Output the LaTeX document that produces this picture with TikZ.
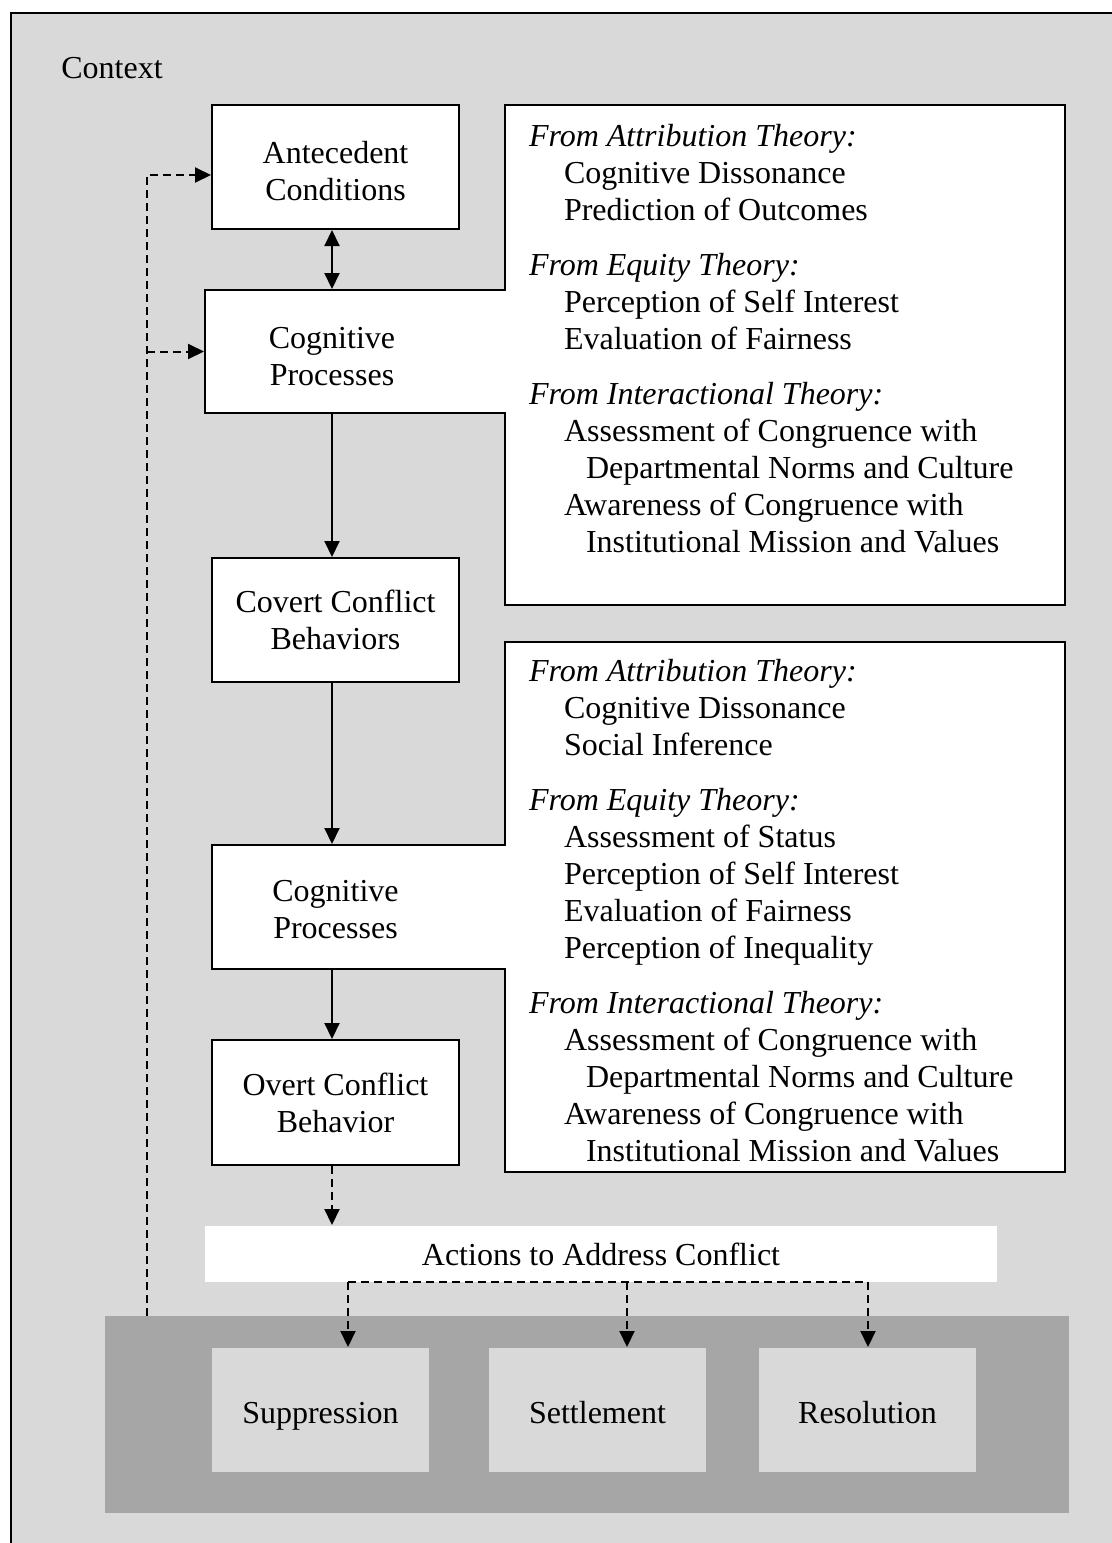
\documentclass[tikz,border=0pt]{standalone}
\usepackage{fontspec}
\setmainfont{Liberation Serif}
\usetikzlibrary{arrows.meta}
\definecolor{ltgrey}{HTML}{D9D9D9}
\definecolor{dkgrey}{HTML}{A6A6A6}
\begin{document}
\begin{tikzpicture}[x=0.5pt,y=-0.5pt,
  font=\fontsize{16}{18.5}\selectfont,
  line width=1pt,
  box/.style={draw=black, fill=white, line width=1pt, align=center, inner sep=0pt},
  ghost/.style={align=center, inner sep=0pt},
  outcome/.style={fill=ltgrey, inner sep=0pt, minimum width=108.5pt, minimum height=62pt, text height=16.5pt, text depth=3pt},
  theory/.style={anchor=north west, align=left, inner sep=0pt},
  arr/.style={-{Triangle[length=8pt,width=7.5pt]}, line width=1pt},
  darr/.style={arr, dash pattern=on 4pt off 2.5pt},
  dline/.style={line width=1pt, dash pattern=on 4pt off 2.5pt}]
\useasboundingbox (0,0) rectangle (1112,1543);
% context background
\fill[ltgrey] (11,13) rectangle (1140,1570);
\draw[line width=1pt] (11,1570) -- (11,13) -- (1140,13);
\node[inner sep=0pt] (context) at (112,68) {Context};

% merged theory boxes with cognitive process boxes
\draw[fill=white, line join=miter] (505,105) -| (1065,605) -| (505,413) -- (205,413) |- (505,290) -- cycle;
\draw[fill=white, line join=miter] (505,642) -| (1065,1172) -| (505,969) -- (212,969) |- (505,845) -- cycle;

% main chain
\node[box, minimum width=123.5pt, minimum height=62pt, text height=33.4pt] (ante) at (335.5,167) {Antecedent\\Conditions};
\node[ghost, minimum width=127pt, minimum height=61.5pt, text height=34.3pt] (cog1) at (332,351.5) {Cognitive\\Processes};
\node[box, minimum width=123.5pt, minimum height=62pt] (covert) at (335.5,620) {Covert Conflict\\Behaviors};
\node[ghost, minimum width=123.5pt, minimum height=62pt, text height=31.5pt] (cog2) at (335.5,907) {Cognitive\\Processes};
\node[box, minimum width=123.5pt, minimum height=62.5pt] (overt) at (335.5,1102.5) {Overt Conflict\\Behavior};

% theory texts
\node[theory] (th1) at (528,123) {\textit{From Attribution Theory:}\\
\hspace*{17.5pt}Cognitive Dissonance\\
\hspace*{17.5pt}Prediction of Outcomes\\[9pt]
\textit{From Equity Theory:}\\
\hspace*{17.5pt}Perception of Self Interest\\
\hspace*{17.5pt}Evaluation of Fairness\\[9pt]
\textit{From Interactional Theory:}\\
\hspace*{17.5pt}Assessment of Congruence with\\
\hspace*{28.5pt}Departmental Norms and Culture\\
\hspace*{17.5pt}Awareness of Congruence with\\
\hspace*{28.5pt}Institutional Mission and Values};

\node[theory] (th2) at (528,658) {\textit{From Attribution Theory:}\\
\hspace*{17.5pt}Cognitive Dissonance\\
\hspace*{17.5pt}Social Inference\\[9pt]
\textit{From Equity Theory:}\\
\hspace*{17.5pt}Assessment of Status\\
\hspace*{17.5pt}Perception of Self Interest\\
\hspace*{17.5pt}Evaluation of Fairness\\
\hspace*{17.5pt}Perception of Inequality\\[9pt]
\textit{From Interactional Theory:}\\
\hspace*{17.5pt}Assessment of Congruence with\\
\hspace*{28.5pt}Departmental Norms and Culture\\
\hspace*{17.5pt}Awareness of Congruence with\\
\hspace*{28.5pt}Institutional Mission and Values};

% actions
\node[fill=white, inner sep=0pt, minimum width=396pt, minimum height=28pt] (actions) at (601,1254) {Actions to Address Conflict};

% outcomes band
\node[fill=dkgrey, inner sep=0pt, minimum width=482pt, minimum height=98.5pt] (band) at (587,1414.5) {};
\node[outcome] (supp) at (320.5,1410) {Suppression};
\node[outcome] (sett) at (597.5,1410) {Settlement};
\node[outcome] (reso) at (867.5,1410) {Resolution};

% solid connectors
\draw[{Triangle[length=8pt,width=7.5pt]}-{Triangle[length=8pt,width=7.5pt]}, line width=1pt] (ante.south -| cog1.north) -- (cog1.north);
\draw[arr] (cog1.south) -- (cog1.south |- covert.north);
\draw[arr] (cog1.south |- covert.south) -- (cog1.south |- cog2.north);
\draw[arr] (cog1.south |- cog2.south) -- (cog1.south |- overt.north);

% dashed connectors
\draw[darr] (cog1.south |- overt.south) -- (cog1.south |- actions.north);
\coordinate (d1) at (348,1282);
\coordinate (d2) at (627,1282);
\coordinate (d3) at (868,1282);
\draw[dline] (d1) -- (d3);
\draw[darr] (d1) -- (d1 |- supp.north);
\draw[darr] (d2) -- (d2 |- sett.north);
\draw[darr] (d3) -- (d3 |- reso.north);

% feedback loop
\coordinate (fb) at (147,1316);
\draw[darr] (fb) |- ([yshift=-4pt]ante.west);
\draw[darr] (fb |- cog1.west) -- (cog1.west);
\end{tikzpicture}
\end{document}
